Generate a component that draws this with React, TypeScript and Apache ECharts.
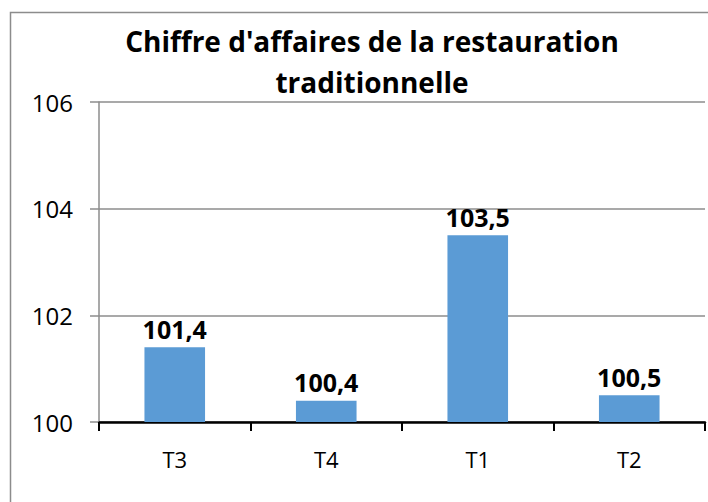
import React, { useEffect, useRef } from "react";
import * as echarts from "echarts";

const titleLines = ["Chiffre d'affaires de la restauration", "traditionnelle"];
const categories = ["T3", "T4", "T1", "T2"];
const values = [101.4, 100.4, 103.5, 100.5];
const yMin = 100;
const yMax = 106;
const yInterval = 2;

export default function App() {
  const ref = useRef<HTMLDivElement>(null);
  useEffect(() => {
    if (!ref.current) return;
    const chart = echarts.init(ref.current, null, { renderer: "svg" });
    chart.setOption({
      animation: false,
      backgroundColor: "#ffffff",
      title: {
        text: titleLines.join("\n"),
        left: 367,
        top: 15,
        textAlign: "center",
        textStyle: {
          fontFamily: "Open Sans",
          fontWeight: "bold",
          fontSize: 28,
          lineHeight: 41,
          color: "#000000",
        },
      },
      graphic: [
        {
          type: "rect",
          shape: { x: 10.5, y: 12.5, width: 760, height: 560 },
          style: { fill: "none", stroke: "#8c8c8c", lineWidth: 1.5 },
          silent: true,
        },
      ],
      grid: { left: 99, right: 3, top: 102, bottom: 80 },
      xAxis: {
        type: "category",
        data: categories,
        axisLine: { show: true, lineStyle: { color: "#000000", width: 2.5 } },
        axisTick: { show: true, length: 9, lineStyle: { color: "#000000", width: 2 } },
        axisLabel: {
          margin: 26,
          fontFamily: "Open Sans",
          fontSize: 22,
          color: "#000000",
        },
        splitLine: { show: false },
      },
      yAxis: {
        type: "value",
        min: yMin,
        max: yMax,
        interval: yInterval,
        axisLine: { show: true, lineStyle: { color: "#8c8c8c", width: 1.5 } },
        axisTick: { show: true, length: 9, lineStyle: { color: "#8c8c8c", width: 1.5 } },
        axisLabel: {
          margin: 26,
          fontFamily: "Open Sans",
          fontSize: 24,
          color: "#000000",
        },
        splitLine: { show: true, lineStyle: { color: "#8c8c8c", width: 1.5 } },
      },
      series: [
        {
          type: "bar",
          data: values,
          barWidth: "40%",
          itemStyle: { color: "#5B9BD5" },
          label: {
            show: true,
            position: "top",
            distance: 6,
            fontFamily: "Open Sans",
            fontWeight: "bold",
            fontSize: 25,
            color: "#000000",
            formatter: (p: any) => String(p.value).replace(".", ","),
          },
        },
      ],
    });
    return () => chart.dispose();
  }, []);
  return (
    <div
      ref={ref}
      style={{ position: "absolute", left: 0, top: 0, width: 708, height: 502 }}
    />
  );
}
